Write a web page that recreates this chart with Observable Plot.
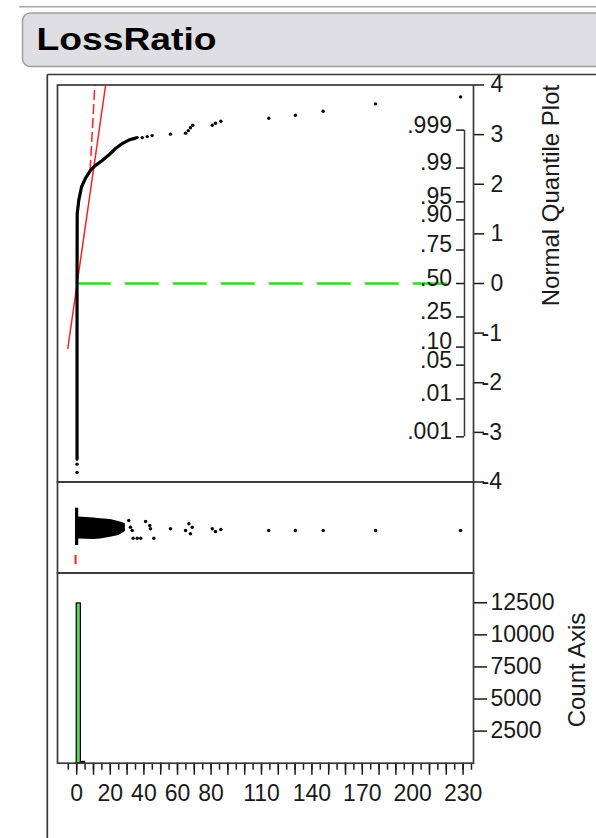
<!DOCTYPE html>
<html><head><meta charset="utf-8">
<script src="https://cdn.jsdelivr.net/npm/d3@7"></script>
<script src="https://cdn.jsdelivr.net/npm/@observablehq/plot@0.6"></script>
<style>
html,body{margin:0;padding:0;background:#fff;}
#page{position:relative;width:596px;height:838px;overflow:hidden;background:#fff;font-family:Arial,"Liberation Sans",sans-serif;}
#page svg{position:absolute;left:0;top:0;overflow:visible;}
</style>
</head><body>
<div id="page">
<svg id="deco" width="596" height="838" xmlns="http://www.w3.org/2000/svg">
  <line x1="19" y1="6.7" x2="596" y2="6.7" stroke="#a8a8a8" stroke-width="1.5"/>
  <rect x="22.5" y="13" width="620" height="53.5" rx="8" fill="#dedee3" stroke="#a0a0a0" stroke-width="1.5"/>
  <text x="36.5" y="49.5" font-family="Arial, 'Liberation Sans', sans-serif" font-weight="bold" font-size="31" textLength="180" lengthAdjust="spacingAndGlyphs" fill="#000">LossRatio</text>
  <line x1="47.3" y1="74.5" x2="47.3" y2="838" stroke="#3a3a3a" stroke-width="1.7"/>
  <line x1="47.3" y1="74.5" x2="596" y2="74.5" stroke="#3a3a3a" stroke-width="1.7"/>
  <text transform="translate(558.5,195.5) rotate(-90)" text-anchor="middle" font-family="Arial, 'Liberation Sans', sans-serif" font-size="24" fill="#1a1a1a">Normal Quantile Plot</text>
  <text transform="translate(585,670) rotate(-90)" text-anchor="middle" font-family="Arial, 'Liberation Sans', sans-serif" font-size="24" fill="#1a1a1a">Count Axis</text>
</svg>
</div>
<script>
// ---------------- data ----------------
// Shared value axis (LossRatio)
const xDomain = [-11.43, 236.2];
const xLabelValues = [0, 20, 40, 60, 80, 110, 140, 170, 200, 230];
const xLabelTexts  = ["0", "20", "40", "60", "80", "110", "140", "170", "200", "230"];

// Normal quantile plot: dense run of points (value, normal quantile)
const curveValue = [0.2, 0.2, 0.3, 1.25, 2.9, 5.2, 8.2, 11.2, 15.2, 19.1, 23.1, 27.1, 31.0, 35.0];
const curveZ     = [-3.54, 0, 1.41, 1.68, 1.95, 2.12, 2.28, 2.38, 2.48, 2.59, 2.72, 2.82, 2.89, 2.93];
// Normal quantile plot: separate points
const pointValue = [0.2, 0.2, 36.0, 39.0, 42.0, 44.9, 55.8, 64.8, 66.4, 67.7, 69.1, 80.7, 82.6, 85.8, 114.3, 130.2, 146.7, 177.9, 228.5];
const pointZ     = [-3.81, -3.64, 2.94, 2.94, 2.96, 2.98, 3.01, 3.03, 3.08, 3.14, 3.19, 3.19, 3.23, 3.27, 3.33, 3.39, 3.47, 3.62, 3.76];
// Red reference line and dashed bound
const fitValue   = [-5.3, 17.1];
const fitZ       = [-1.31, 3.97];
const boundValue = [8.0, 10.8];
const boundZ     = [2.3, 4.0];
// Green dashed line at quantile 0
const midFrom = 0.3, midTo = 222, midZ = 0;
// Axes of the quantile plot
const zTicks  = [-4, -3, -2, -1, 0, 1, 2, 3, 4];
const zLabels = ["-4", "-3", "-2", "-1", "0", "1", "2", "3", "4"];
const probValues = [0.001, 0.01, 0.05, 0.10, 0.25, 0.50, 0.75, 0.90, 0.95, 0.99, 0.999];
const probLabels = [".001", ".01", ".05", ".10", ".25", ".50", ".75", ".90", ".95", ".99", ".999"];

// Outlier box plot panel (jitter offset in arbitrary units)
const blobValue = [0.6, 1.25, 10.2, 14.2, 20.1, 25.1, 29.0];
const blobLow   = [-0.57, -0.57, -0.6, -0.57, -0.49, -0.4, -0.2];
const blobHigh  = [0.52, 0.52, 0.47, 0.44, 0.4, 0.3, 0.19];
const outValue  = [31.0, 32.0, 33.0, 33.6, 36.0, 38.1, 41.0, 43.5, 43.9, 45.9, 55.8, 64.8, 66.8, 68.8, 67.7, 80.7, 82.6, 85.8, 114.3, 130.2, 146.7, 177.9, 228.5];
const outJitter = [0.35, 0.015, -0.15, -0.535, -0.535, -0.535, 0.3, 0.1, -0.065, -0.535, -0.065, -0.15, 0.185, 0.015, -0.315, -0.065, -0.2, -0.1, -0.15, -0.15, -0.15, -0.15, -0.15];
const boxLo = -0.7, boxHi = 1.2;
const halfLo = -1.0, halfHi = 0.2;

// Histogram
const binStart = [0, 2.5];
const binEnd   = [2.5, 5];
const binCount = [12450, 100];
const countTicks  = [2500, 5000, 7500, 10000, 12500];
const countLabels = ["2500", "5000", "7500", "10000", "12500"];
const countMax = 14820;

// ---------------- helpers ----------------
function probit(p){
  const a=[-39.69683028665376,220.9460984245205,-275.9285104469687,138.3577518672690,-30.66479806614716,2.506628277459239];
  const b=[-54.47609879822406,161.5858368580409,-155.6989798598866,66.80131188771972,-13.28068155288572];
  const c=[-0.007784894002430293,-0.3223964580411365,-2.400758277161838,-2.549732539343734,4.374664141464968,2.938163982698783];
  const d=[0.007784695709041462,0.3224671290700398,2.445134137142996,3.754408661907416];
  const pl=0.02425, ph=1-pl; let q, r;
  if (p < pl) { q=Math.sqrt(-2*Math.log(p)); return (((((c[0]*q+c[1])*q+c[2])*q+c[3])*q+c[4])*q+c[5])/((((d[0]*q+d[1])*q+d[2])*q+d[3])*q+1); }
  if (p > ph) { q=Math.sqrt(-2*Math.log(1-p)); return -(((((c[0]*q+c[1])*q+c[2])*q+c[3])*q+c[4])*q+c[5])/((((d[0]*q+d[1])*q+d[2])*q+d[3])*q+1); }
  q=p-0.5; r=q*q; return (((((a[0]*r+a[1])*r+a[2])*r+a[3])*r+a[4])*r+a[5])*q/(((((b[0]*r+b[1])*r+b[2])*r+b[3])*r+b[4])*r+1);
}
const zip2 = (xs, ys, kx, ky) => xs.map((v, i) => ({[kx]: v, [ky]: ys[i]}));

const curve  = zip2(curveValue, curveZ, "v", "z");
const points = zip2(pointValue, pointZ, "v", "z");
const fit    = zip2(fitValue, fitZ, "v", "z");
const bound  = zip2(boundValue, boundZ, "v", "z");
const probZ  = probValues.map(probit);
const probMap = new Map(probZ.map((z, i) => [z, probLabels[i]]));
const zMap = new Map(zTicks.map((z, i) => [z, zLabels[i]]));
const blob = blobValue.map((v, i) => ({v, lo: blobLow[i], hi: blobHigh[i]}));
const outs = zip2(outValue, outJitter, "v", "j");
const bins = binStart.map((s, i) => ({x0: s, x1: binEnd[i], n: binCount[i]}));
const xLabelMap = new Map(xLabelValues.map((v, i) => [v, xLabelTexts[i]]));
const countMap = new Map(countTicks.map((v, i) => [v, countLabels[i]]));

const W = 596, H = 838;
const FRAME = "#3a3a3a";
const common = {
  width: W, height: H, marginLeft: 57, marginRight: 123,
  x: {domain: xDomain, axis: null},
  style: {background: "transparent", fontFamily: "Arial, 'Liberation Sans', sans-serif", fontSize: "23px", color: "#1a1a1a", overflow: "visible"}
};
const page = document.getElementById("page");

// ---------------- panel 1: normal quantile plot ----------------
const p1 = Plot.plot({
  ...common,
  marginTop: 84.5, marginBottom: H - 481.5,
  y: {domain: [-4, 4], axis: null},
  marks: [
    Plot.ruleY([{z: midZ, a: midFrom, b: midTo}], {y: "z", x1: "a", x2: "b", stroke: "#33d633", strokeWidth: 2.3, strokeDasharray: "34,14"}),
    Plot.line(fit, {x: "v", y: "z", stroke: "#ff1f1f", strokeWidth: 1.5}),
    Plot.line(bound, {x: "v", y: "z", stroke: "#ff1f1f", strokeWidth: 1.5, strokeDasharray: "9,5"}),
    Plot.line(curve, {x: "v", y: "z", stroke: "#000", strokeWidth: 3.2}),
    Plot.dot(points, {x: "v", y: "z", r: 1.7, fill: "#000", stroke: null}),
    Plot.ruleX([xDomain[1]], {y1: probZ[0], y2: probZ[probZ.length - 1], dx: -9, stroke: FRAME, strokeWidth: 1.5}),
    Plot.axisY({anchor: "left", ticks: probZ, tickSize: 8, tickFormat: () => "", dx: 407, strokeWidth: 1.5, label: null}),
    Plot.axisY({anchor: "left", ticks: probZ, tickSize: 0, tickPadding: 12.5, dx: 407, dy: -5, tickFormat: d => probMap.get(d), label: null}),
    Plot.axisY({anchor: "right", ticks: zTicks, tickSize: 10, tickFormat: () => "", strokeWidth: 1.5, label: null}),
    Plot.axisY({anchor: "right", ticks: zTicks.filter(d => d >= 0), tickSize: 0, tickPadding: 17, tickFormat: d => zMap.get(d), label: null}),
    Plot.axisY({anchor: "right", ticks: zTicks.filter(d => d < 0), tickSize: 0, tickPadding: 8, tickFormat: d => zMap.get(d), label: null}),
    Plot.frame({stroke: FRAME, strokeWidth: 1.7})
  ]
});

// ---------------- panel 2: outlier box plot ----------------
const p2 = Plot.plot({
  ...common,
  marginTop: 481.5, marginBottom: H - 572.5,
  y: {domain: [-2.275, 2.275], axis: null},
  marks: [
    Plot.areaY(blob, {x: "v", y1: "lo", y2: "hi", fill: "#000"}),
    Plot.rect([{a: boxLo, b: boxHi}], {x1: "a", x2: "b", y1: -0.9, y2: 0.965, fill: "#000"}),
    Plot.dot(outs, {x: "v", y: "j", r: 1.7, fill: "#000", stroke: null}),
    Plot.rect([{a: halfLo, b: halfHi}], {x1: "a", x2: "b", y1: -1.4, y2: -1.86, fill: "#ff1f1f"}),
    Plot.frame({stroke: FRAME, strokeWidth: 1.7})
  ]
});

// ---------------- panel 3: histogram ----------------
const p3 = Plot.plot({
  ...common,
  marginTop: 572.5, marginBottom: H - 762.7,
  y: {domain: [0, countMax], axis: null},
  marks: [
    Plot.rectY(bins, {x1: "x0", x2: "x1", y: "n", fill: "#5ed35e", stroke: "#000", strokeWidth: 1.2}),
    Plot.axisY({anchor: "right", ticks: countTicks, tickSize: 13, tickPadding: 4, tickFormat: d => countMap.get(d), strokeWidth: 1.5, label: null}),
    Plot.axisX({anchor: "bottom", ticks: d3.range(-5, 240, 5), tickSize: 7, tickFormat: () => "", strokeWidth: 1.5, label: null}),
    Plot.axisX({anchor: "bottom", ticks: d3.range(0, 240, 10), tickSize: 12, tickFormat: () => "", strokeWidth: 1.5, label: null}),
    Plot.axisX({anchor: "bottom", ticks: xLabelValues, tickSize: 0, tickPadding: 21, tickFormat: d => xLabelMap.get(d), label: null}),
    Plot.frame({stroke: FRAME, strokeWidth: 1.7})
  ]
});

for (const p of [p1, p2, p3]) page.appendChild(p);
</script>
</body></html>
